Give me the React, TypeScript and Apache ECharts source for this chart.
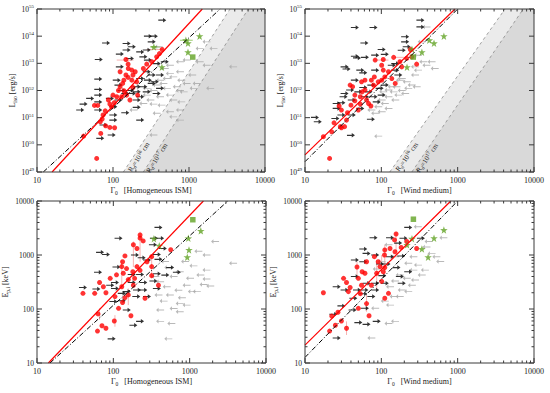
import React, { useEffect, useRef } from 'react';
import * as echarts from 'echarts';

const FONT = '"Liberation Serif", "DejaVu Serif", serif';

// ---------------- DATA ----------------
// Top panels: [Gamma0, log10(L_iso / erg s^-1)]
const tlRed = [[61,49.50],[41,50.32],[69,50.42],[68,50.85],[80,50.70],[91,50.64],[105,50.63],[72,50.95],[74,51.10],[79,51.25],[57,51.45],[63,51.45],[87,51.65],[96,51.40],[104,51.55],[100,51.83],[112,51.77],[118,52.00],[124,52.14],[134,52.26],[139,52.38],[148,52.57],[158,52.48],[139,51.99],[177,52.38],[183,52.57],[196,52.69],[205,52.32],[148,53.14],[158,52.97],[159,52.81],[177,52.75],[251,52.81],[278,52.97],[324,53.06],[375,53.24],[443,53.51],[408,53.36],[130,51.77],[151,51.83],[183,52.11],[211,51.83],[124,52.69],[167,51.65],[91,51.50]];
const tlBlack = [[445,54.59],[81,53.75],[288,54.0],[345,54.0],[323,53.79],[151,53.49],[123,53.34],[65,53.14],[228,53.42],[251,53.24],[167,53.18],[288,53.12],[375,52.99],[480,53.06],[112,52.38],[64,52.42],[118,52.20],[228,52.44],[278,52.69],[323,52.57],[205,52.14],[251,52.14],[323,52.26],[416,52.57],[64,52.04],[64,51.83],[130,52.0],[167,52.0],[205,51.95],[145,51.89],[177,51.89],[228,51.77],[416,52.08],[50,51.71],[91,51.71],[118,51.65],[101,51.40],[205,51.65],[41,51.50],[37,51.28],[64,51.28],[101,51.10],[145,51.18],[205,51.38],[101,50.91],[228,50.91],[75,50.73],[96,50.36],[68,50.24],[288,52.38],[354,52.32],[278,51.95],[375,51.89],[177,53.61],[151,53.73],[123,52.87],[278,53.49],[64,51.58]];
const tlGray = [[400,53.61],[1700,53.79],[1380,53.55],[2100,53.55],[760,53.06],[930,53.12],[1380,53.06],[1700,52.93],[3800,52.87],[560,52.93],[480,52.81],[760,52.69],[1100,52.57],[620,52.50],[510,52.44],[415,52.38],[790,52.38],[1260,52.26],[690,52.14],[930,52.26],[510,52.08],[340,52.0],[375,52.20],[760,52.0],[850,51.95],[1150,52.08],[1900,52.08],[560,51.83],[415,51.77],[278,51.83],[310,51.65],[620,51.65],[790,51.58],[340,51.50],[250,51.52],[435,51.46],[760,51.28],[560,51.22],[186,51.28],[375,51.16],[620,51.03],[760,50.91],[340,50.36],[460,52.26],[278,52.08],[560,52.63]];
const tlStars = [[345,53.6],[910,53.85],[970,53.74],[1380,54.0],[970,53.41],[440,52.86]];
const tlSquare = [[1120,53.23]];
const tlRedErrH = [[112,186,53.12],[91,118,51.79],[278,455,53.51]];
const tlGreenErrH = [[309,417,53.6],[760,1120,53.85]];

const trRed = [[21,49.50],[17.4,50.30],[22.4,50.48],[24,50.81],[29,50.67],[30,50.63],[33,50.67],[35,50.91],[36,51.18],[28,51.43],[30,51.28],[40,51.46],[39,52.20],[42,52.14],[45,51.83],[53,51.77],[56,51.95],[64,51.65],[68,51.52],[50,51.28],[73,51.43],[74,52.38],[81,52.50],[79,52.20],[91,52.32],[101,52.38],[111,52.50],[106,52.75],[101,52.93],[124,52.69],[83,53.12],[106,53.14],[145,53.22],[175,53.06],[185,52.87],[215,53.18],[290,52.97],[250,53.24],[240,53.51],[55,52.32],[61,52.38],[53,51.50],[61,52.02],[45,51.62],[137,52.44],[152,52.26]];
const trBlack = [[45,54.32],[79,54.32],[60,53.75],[205,53.98],[205,53.79],[325,54.59],[325,54.34],[45,53.26],[48,53.20],[61,53.22],[83,53.30],[111,53.33],[101,53.51],[33,52.87],[35,52.79],[45,52.38],[53,52.75],[83,52.75],[137,52.93],[185,53.48],[215,53.61],[39,52.02],[58,52.11],[74,52.20],[95,52.08],[111,52.20],[32,51.77],[33,51.89],[26,51.52],[30,51.55],[26,51.34],[41,51.65],[68,51.95],[79,51.77],[101,51.83],[53,51.34],[13.5,51.01],[14.7,50.85],[25,50.97],[41,51.10],[30,51.10],[73,50.94],[40,50.35],[152,52.75],[167,52.57],[61,51.77],[50,51.95],[87,51.58],[152,52.99],[58,52.65]];
const trGray = [[390,54.34],[338,53.79],[302,53.30],[355,53.06],[500,52.81],[302,52.75],[276,52.57],[215,52.32],[185,52.44],[250,52.20],[158,52.14],[185,52.0],[145,51.95],[124,51.77],[152,51.65],[111,51.52],[91,51.40],[124,51.34],[83,51.16],[101,51.65],[91,50.32],[205,51.89],[225,52.08],[290,52.14],[137,52.14],[390,52.93],[455,53.06],[276,52.87],[124,52.02],[167,51.83],[175,52.38],[101,51.22],[74,51.28],[106,51.95]];
const trStars = [[660,54.0],[425,53.85],[490,53.74],[340,53.41],[252,53.52],[217,52.86]];
const trSquare = [[262,53.23]];
const trRedErrH = [[83,124,53.12],[150,200,53.22]];

// Bottom panels: [Gamma0, Ep,i (keV)]
const blRed = [[62,39],[71,49],[80,44],[103,60],[63,81],[117,103],[170,75],[260,158],[40,195],[57,195],[80,200],[74,258],[66,310],[91,370],[129,258],[142,162],[132,132],[157,182],[105,170],[135,460],[129,610],[132,750],[142,960],[180,490],[204,610],[190,370],[183,275],[204,1320],[183,1550],[224,2050],[224,2350],[246,1820],[318,610],[318,415],[318,930],[390,275],[565,1250],[110,430],[149,560],[157,350],[224,520],[276,750]];
const blBlack = [[390,3240],[117,2040],[340,2040],[410,2040],[330,1550],[445,1320],[67,1120],[80,1020],[192,1000],[235,890],[276,810],[390,830],[110,600],[63,480],[174,435],[224,435],[372,450],[480,425],[40,250],[105,310],[174,310],[247,310],[335,330],[60,235],[105,240],[91,275],[129,195],[150,210],[204,225],[247,225],[372,240],[100,138],[129,142],[200,170],[183,50],[224,59],[95,28],[150,96],[276,170],[680,480],[555,585],[372,1020]];
const blGray = [[2150,1780],[1660,1000],[1300,1170],[870,760],[1120,630],[1660,525],[3700,705],[740,490],[525,585],[615,400],[1010,370],[1380,425],[1520,285],[910,275],[1860,267],[500,258],[710,222],[1240,210],[550,182],[790,162],[390,182],[455,140],[740,127],[615,102],[410,96],[910,118],[410,59],[575,54],[525,28],[355,400],[475,760],[410,320],[740,89],[1070,210],[1660,360]];
const blStars = [[1400,2800],[960,2040],[980,1240],[930,910],[340,2000],[400,1480]];
const blSquare = [[1100,4500]];
const blRedErrV = [[224,750,2700],[129,240,810],[183,600,1780],[105,47,77],[157,118,240],[318,370,1000],[66,63,103]];

const brRed = [[17.4,200],[21,39],[22.4,74],[25,50],[27,87],[30,60],[32,370],[35,44],[37,210],[35,310],[39,250],[48,600],[50,370],[50,103],[53,192],[56,490],[61,460],[64,126],[69,75],[74,275],[81,930],[87,460],[91,750],[96,610],[101,325],[106,490],[111,1240],[110,1000],[111,585],[124,195],[156,2450],[149,1900],[130,1320],[151,1150],[182,1380],[215,1780],[290,1320],[111,158],[55,275],[64,750]];
const brBlack = [[225,3240],[79,2090],[130,2090],[195,2040],[166,1660],[330,2040],[58,1290],[64,1070],[83,1000],[45,810],[58,750],[130,930],[182,960],[96,680],[117,680],[158,585],[225,490],[45,400],[64,300],[83,300],[111,300],[175,400],[26,258],[33,225],[48,225],[60,225],[83,225],[30,114],[43,158],[58,192],[74,170],[42,96],[61,103],[23.5,80],[50,56],[64,52],[87,59],[26,29],[103,415],[185,300]];
const brGray = [[300,3330],[415,1780],[650,2090],[390,1410],[525,930],[590,760],[263,930],[225,705],[302,650],[263,525],[372,525],[174,425],[215,370],[276,345],[151,330],[130,258],[185,225],[225,210],[145,170],[111,140],[130,118],[83,103],[151,59],[124,54],[74,29],[338,425],[455,1070],[124,1550],[101,750],[87,550],[151,930],[174,170],[251,275]];
const brStars = [[660,2900],[490,2050],[340,1290],[410,910],[252,2000],[217,1540]];
const brSquare = [[263,4600]];
const brRedErrV = [[156,1150,2700],[111,425,1550],[48,370,750],[87,240,810],[35,33,59],[64,89,182],[101,490,1000]];

// Fitted relations and deceleration-radius limits (end points)
const tlRedLine = [[15.8,49],[1496,55]];
const tlBlackLine = [[12.1,49],[2570,55]];
const tlDash16 = [[137,49],[3470,55]];
const tlDash17 = [[251,49],[6030,55]];
const trRedLine = [[10,49.63],[923,55]];
const trBlackLine = [[10,49.38],[1000,55]];
const trDash16 = [[129,49],[4170,55]];
const trDash17 = [[251,49],[7240,55]];
const blRedLine = [[14.1,10],[1514,10000]];
const blBlackLine = [[14.8,10],[3162,10000]];
const brRedLine = [[10,21.4],[813,10000]];
const brBlackLine = [[10,12.7],[1000,10000]];

// Label anchors for the R_d lines
const tlLabel16 = [220,49.55];
const tlLabel17 = [380,49.51];
const trLabel16 = [217,49.55];
const trLabel17 = [400,49.51];

const gammaRange = [10, 10000];
const lumRange = [49, 55];
const epRange = [10, 10000];

// ---------------- STYLE ----------------
const ARROW_R = 'path://M0,3L6,3L6,0L10,4L6,8L6,5L0,5Z';
const ARROW_L = 'path://M10,3.4L3,3.4L3,1L0,4L3,7L3,4.6L10,4.6Z';
const STAR = 'path://M10,0L12.35,6.76L19.51,6.91L13.8,11.24L15.88,18.09L10,14L4.12,18.09L6.2,11.24L0.49,6.91L7.65,6.76Z';
const GREEN = '#62a324';
const PINK = '#f6b3b3';
const AXIS = '#3a3a3a';

function logTicks(lo: number, hi: number) {
  const out: { v: number; major: boolean }[] = [];
  for (let d = lo; d < hi; d *= 10) {
    for (let m = 1; m < 10; m++) out.push({ v: m * d, major: m === 1 });
  }
  out.push({ v: hi, major: true });
  return out;
}

function buildOption() {
  const panels = [
    { grid: { left: 37, top: 9, width: 228, height: 163 }, isL: true, medium: 'Homogeneous ISM',
      red: tlRed, black: tlBlack, gray: tlGray, stars: tlStars, square: tlSquare,
      redLine: tlRedLine, blackLine: tlBlackLine, dash16: tlDash16, dash17: tlDash17, lab16: tlLabel16, lab17: tlLabel17,
      errH: tlRedErrH, errHG: tlGreenErrH, errV: null as any },
    { grid: { left: 305, top: 9, width: 229, height: 163 }, isL: true, medium: 'Wind medium',
      red: trRed, black: trBlack, gray: trGray, stars: trStars, square: trSquare,
      redLine: trRedLine, blackLine: trBlackLine, dash16: trDash16, dash17: trDash17, lab16: trLabel16, lab17: trLabel17,
      errH: trRedErrH, errHG: null as any, errV: null as any },
    { grid: { left: 37, top: 201, width: 229, height: 162 }, isL: false, medium: 'Homogeneous ISM',
      red: blRed, black: blBlack, gray: blGray, stars: blStars, square: blSquare,
      redLine: blRedLine, blackLine: blBlackLine, dash16: null as any, dash17: null as any, lab16: null as any, lab17: null as any,
      errH: null as any, errHG: null as any, errV: blRedErrV },
    { grid: { left: 305, top: 201, width: 229, height: 162 }, isL: false, medium: 'Wind medium',
      red: brRed, black: brBlack, gray: brGray, stars: brStars, square: brSquare,
      redLine: brRedLine, blackLine: brBlackLine, dash16: null as any, dash17: null as any, lab16: null as any, lab17: null as any,
      errH: null as any, errHG: null as any, errV: brRedErrV },
  ];

  const grids: any[] = [];
  const xAxes: any[] = [];
  const yAxes: any[] = [];
  const series: any[] = [];

  const richName = {
    m: { fontSize: 8, fontFamily: FONT, color: '#222', lineHeight: 11 },
    s: { fontSize: 5.5, fontFamily: FONT, color: '#222', lineHeight: 6, verticalAlign: 'bottom' },
  };

  panels.forEach((p, gi) => {
    grids.push({ ...p.grid, show: false, containLabel: false });
    xAxes.push({
      type: 'log', logBase: 10, gridIndex: gi, min: gammaRange[0], max: gammaRange[1], splitNumber: 3,
      axisLine: { show: false }, axisTick: { show: false }, splitLine: { show: false },
      axisLabel: { fontFamily: FONT, fontSize: 8, color: '#222', margin: 4, showMinLabel: true, showMaxLabel: true,
        formatter: (v: number) => String(Math.round(v)) },
      name: `{m|Γ}{s|0}{m|   [${p.medium}]}`, nameLocation: 'middle', nameGap: 13,
      nameTextStyle: { rich: richName },
    });
    if (p.isL) {
      yAxes.push({
        type: 'value', gridIndex: gi, min: lumRange[0], max: lumRange[1], interval: 1,
        axisLine: { show: false }, axisTick: { show: false }, splitLine: { show: false },
        axisLabel: { margin: 3, formatter: (v: number) => `{b|10}{s|${v}}`,
          rich: { b: { fontSize: 7.5, fontFamily: FONT, color: '#222', lineHeight: 10 },
                  s: { fontSize: 5, fontFamily: FONT, color: '#222', lineHeight: 5, verticalAlign: 'top' } } },
        name: '{m|L}{s|iso}{m| [erg/s]}', nameLocation: 'middle', nameGap: 17,
        nameTextStyle: { rich: richName },
      });
    } else {
      yAxes.push({
        type: 'log', logBase: 10, gridIndex: gi, min: epRange[0], max: epRange[1], splitNumber: 3,
        axisLine: { show: false }, axisTick: { show: false }, splitLine: { show: false },
        axisLabel: { fontFamily: FONT, fontSize: 7.5, color: '#222', margin: 3, showMinLabel: true, showMaxLabel: true,
          formatter: (v: number) => String(Math.round(v)) },
        name: '{m|E}{s|p,i}{m| [keV]}', nameLocation: 'middle', nameGap: 19,
        nameTextStyle: { rich: richName },
      });
    }
    const yMin = p.isL ? lumRange[0] : epRange[0];
    const yMax = p.isL ? lumRange[1] : epRange[1];
    const base = { xAxisIndex: gi, yAxisIndex: gi, silent: true };
    const anchor = [[100, p.isL ? 52 : 100]];

    // shaded forbidden regions
    if (p.dash16) {
      [[p.dash16, '#ebebeb', 1], [p.dash17, '#d9d9d9', 1.5]].forEach(([ln, col, z]: any) => {
        series.push({ ...base, type: 'custom', z, data: anchor, clip: true,
          renderItem: (_: any, api: any) => {
            const a = api.coord(ln[0]); const b = api.coord(ln[1]);
            const c = api.coord([gammaRange[1], ln[1][1]]); const d = api.coord([gammaRange[1], ln[0][1]]);
            return { type: 'polygon', shape: { points: [a, b, c, d] }, style: { fill: col } };
          } });
        series.push({ ...base, type: 'line', z: 2, data: ln, symbol: 'none',
          lineStyle: { color: '#8a8a8a', width: 0.8, type: [3, 3] } });
      });
      [[p.lab16, p.dash16, '16'], [p.lab17, p.dash17, '17']].forEach(([lab, ln, ex]: any) => {
        series.push({ ...base, type: 'custom', z: 9, data: [lab], clip: false,
          renderItem: (_: any, api: any) => {
            const a = api.coord(ln[0]); const b = api.coord(ln[1]);
            const ang = Math.atan2(a[1] - b[1], b[0] - a[0]);
            const c = api.coord(lab);
            return { type: 'text', x: c[0], y: c[1], rotation: ang,
              style: { text: `{a|R}{b|d}{a|=10}{c|${ex}}{a| cm}`, align: 'center', verticalAlign: 'middle', fill: '#222',
                rich: { a: { fontSize: 7, fontFamily: FONT, fill: '#222', lineHeight: 9 },
                        b: { fontSize: 5, fontFamily: FONT, fill: '#222', lineHeight: 5, verticalAlign: 'bottom' },
                        c: { fontSize: 5, fontFamily: FONT, fill: '#222', lineHeight: 5, verticalAlign: 'top' } } } };
          } });
      });
    }

    // error bars
    const hErr = (data: any, color: string) => series.push({ ...base, type: 'custom', z: 3, data, encode: { x: 0, y: 2 },
      renderItem: (_: any, api: any) => {
        const a = api.coord([api.value(0), api.value(2)]); const b = api.coord([api.value(1), api.value(2)]);
        return { type: 'line', shape: { x1: a[0], y1: a[1], x2: b[0], y2: b[1] }, style: { stroke: color, lineWidth: 1 } };
      } });
    const vErr = (data: any, color: string) => series.push({ ...base, type: 'custom', z: 3, data, encode: { x: 0, y: 1 },
      renderItem: (_: any, api: any) => {
        const a = api.coord([api.value(0), api.value(1)]); const b = api.coord([api.value(0), api.value(2)]);
        return { type: 'line', shape: { x1: a[0], y1: a[1], x2: b[0], y2: b[1] }, style: { stroke: color, lineWidth: 1 } };
      } });
    if (p.errH) hErr(p.errH, PINK);
    if (p.errHG) hErr(p.errHG, '#9ccc6e');
    if (p.errV) vErr(p.errV, PINK);

    // points
    series.push({ ...base, type: 'scatter', z: 4, data: p.gray, symbol: ARROW_L, symbolSize: [8, 4.5], itemStyle: { color: '#a8a8a8' } });
    series.push({ ...base, type: 'scatter', z: 5, data: p.black, symbol: ARROW_R, symbolSize: [8, 4.5], itemStyle: { color: '#000' } });
    series.push({ ...base, type: 'scatter', z: 6, data: p.red, symbol: 'circle', symbolSize: 5, itemStyle: { color: '#ff0000' } });
    series.push({ ...base, type: 'scatter', z: 7, data: p.stars, symbol: STAR, symbolSize: 7.5, itemStyle: { color: GREEN } });
    series.push({ ...base, type: 'scatter', z: 7, data: p.square, symbol: 'rect', symbolSize: 5.5, itemStyle: { color: GREEN } });

    // fits
    series.push({ ...base, type: 'line', z: 8, data: p.blackLine, symbol: 'none',
      lineStyle: { color: '#000', width: 1, type: [5, 2, 1, 2] } });
    series.push({ ...base, type: 'line', z: 8, data: p.redLine, symbol: 'none',
      lineStyle: { color: '#ff0000', width: 1.2 } });

    // frame with IDL-style inward ticks on all sides
    series.push({ ...base, type: 'custom', z: 20, data: anchor, clip: false,
      renderItem: (_: any, api: any) => {
        const bl = api.coord([gammaRange[0], yMin]);
        const tr = api.coord([gammaRange[1], yMax]);
        const ch: any[] = [];
        const seg = (x1: number, y1: number, x2: number, y2: number) =>
          ch.push({ type: 'line', shape: { x1, y1, x2, y2 }, style: { stroke: AXIS, lineWidth: 1 } });
        ch.push({ type: 'rect', shape: { x: bl[0], y: tr[1], width: tr[0] - bl[0], height: bl[1] - tr[1] },
          style: { fill: 'none', stroke: AXIS, lineWidth: 1 } });
        logTicks(gammaRange[0], gammaRange[1]).forEach(({ v, major }) => {
          const px = api.coord([v, yMin])[0]; const len = major ? 5 : 2.5;
          seg(px, bl[1], px, bl[1] - len); seg(px, tr[1], px, tr[1] + len);
        });
        if (p.isL) {
          for (let v = lumRange[0]; v <= lumRange[1]; v++) {
            const py = api.coord([gammaRange[0], v])[1];
            seg(bl[0], py, bl[0] + 5, py); seg(tr[0], py, tr[0] - 5, py);
          }
        } else {
          logTicks(epRange[0], epRange[1]).forEach(({ v, major }) => {
            const py = api.coord([gammaRange[0], v])[1]; const len = major ? 5 : 2.5;
            seg(bl[0], py, bl[0] + len, py); seg(tr[0], py, tr[0] - len, py);
          });
        }
        return { type: 'group', children: ch };
      } });
  });

  return { animation: false, backgroundColor: '#fff', grid: grids, xAxis: xAxes, yAxis: yAxes, series };
}

export default function App() {
  const ref = useRef<HTMLDivElement>(null);
  useEffect(() => {
    const chart = echarts.init(ref.current!, null, { renderer: 'svg' });
    chart.setOption(buildOption() as any);
    return () => chart.dispose();
  }, []);
  return <div ref={ref} style={{ position: 'fixed', left: 0, top: 0, width: 550, height: 393 }} />;
}
